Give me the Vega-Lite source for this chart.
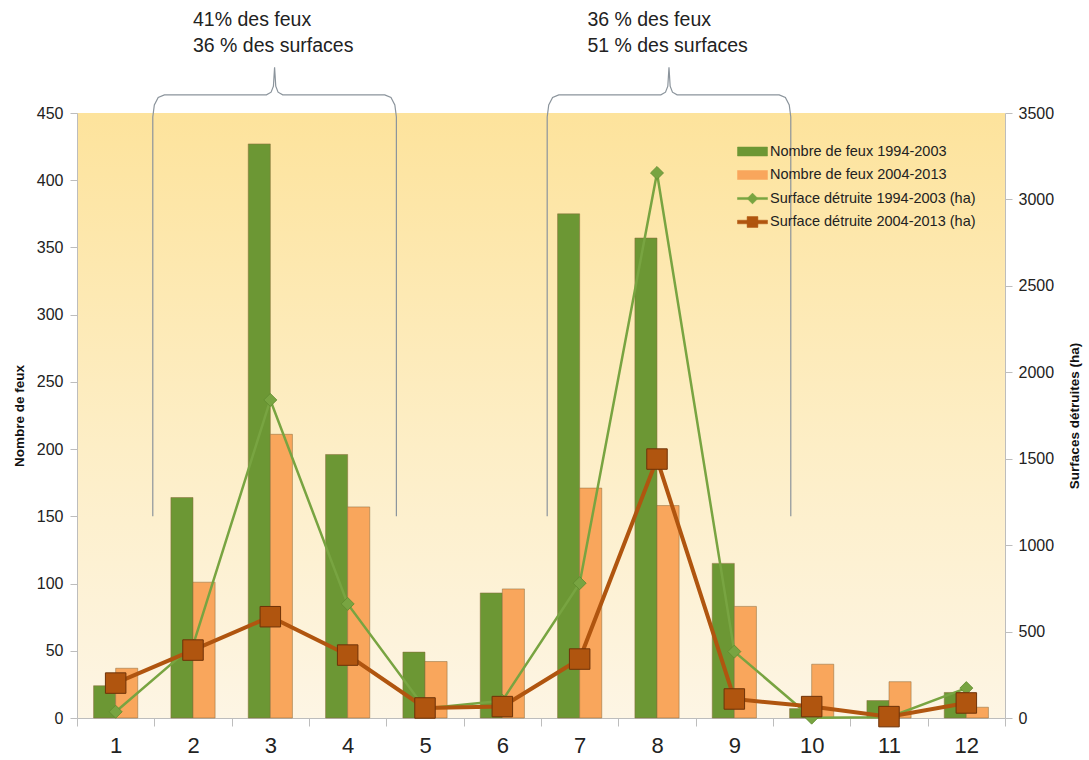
{
  "$schema": "https://vega.github.io/schema/vega-lite/v6.json",
  "width": 928,
  "height": 605,
  "autosize": {"type": "none"},
  "padding": {"left": 77, "top": 113, "right": 84, "bottom": 42},
  "background": "#ffffff",
  "config": {
    "font": "Liberation Sans",
    "view": {
      "stroke": null,
      "fill": {"gradient": "linear", "x1": 0, "y1": 0, "x2": 0, "y2": 1,
        "stops": [{"offset": 0, "color": "#fde39c"}, {"offset": 0.55, "color": "#fdeec6"}, {"offset": 1, "color": "#fdf5e4"}]}
    },
    "legend": {"labelLimit": 400}
  },
  "datasets": {
    "feux": [
      {"mois": 1, "serie": "Nombre de feux 1994-2003", "valeur": 24},
      {"mois": 2, "serie": "Nombre de feux 1994-2003", "valeur": 164},
      {"mois": 3, "serie": "Nombre de feux 1994-2003", "valeur": 427},
      {"mois": 4, "serie": "Nombre de feux 1994-2003", "valeur": 196},
      {"mois": 5, "serie": "Nombre de feux 1994-2003", "valeur": 49},
      {"mois": 6, "serie": "Nombre de feux 1994-2003", "valeur": 93},
      {"mois": 7, "serie": "Nombre de feux 1994-2003", "valeur": 375},
      {"mois": 8, "serie": "Nombre de feux 1994-2003", "valeur": 357},
      {"mois": 9, "serie": "Nombre de feux 1994-2003", "valeur": 115},
      {"mois": 10, "serie": "Nombre de feux 1994-2003", "valeur": 7},
      {"mois": 11, "serie": "Nombre de feux 1994-2003", "valeur": 13},
      {"mois": 12, "serie": "Nombre de feux 1994-2003", "valeur": 19},
      {"mois": 1, "serie": "Nombre de feux 2004-2013", "valeur": 37},
      {"mois": 2, "serie": "Nombre de feux 2004-2013", "valeur": 101},
      {"mois": 3, "serie": "Nombre de feux 2004-2013", "valeur": 211},
      {"mois": 4, "serie": "Nombre de feux 2004-2013", "valeur": 157},
      {"mois": 5, "serie": "Nombre de feux 2004-2013", "valeur": 42},
      {"mois": 6, "serie": "Nombre de feux 2004-2013", "valeur": 96},
      {"mois": 7, "serie": "Nombre de feux 2004-2013", "valeur": 171},
      {"mois": 8, "serie": "Nombre de feux 2004-2013", "valeur": 158},
      {"mois": 9, "serie": "Nombre de feux 2004-2013", "valeur": 83},
      {"mois": 10, "serie": "Nombre de feux 2004-2013", "valeur": 40},
      {"mois": 11, "serie": "Nombre de feux 2004-2013", "valeur": 27},
      {"mois": 12, "serie": "Nombre de feux 2004-2013", "valeur": 8}
    ],
    "surf9403": [
      {"mois": 1, "serie": "Surface détruite 1994-2003 (ha)", "valeur": 36},
      {"mois": 2, "serie": "Surface détruite 1994-2003 (ha)", "valeur": 420},
      {"mois": 3, "serie": "Surface détruite 1994-2003 (ha)", "valeur": 1840},
      {"mois": 4, "serie": "Surface détruite 1994-2003 (ha)", "valeur": 660},
      {"mois": 5, "serie": "Surface détruite 1994-2003 (ha)", "valeur": 55},
      {"mois": 6, "serie": "Surface détruite 1994-2003 (ha)", "valeur": 100},
      {"mois": 7, "serie": "Surface détruite 1994-2003 (ha)", "valeur": 780},
      {"mois": 8, "serie": "Surface détruite 1994-2003 (ha)", "valeur": 3153},
      {"mois": 9, "serie": "Surface détruite 1994-2003 (ha)", "valeur": 384},
      {"mois": 10, "serie": "Surface détruite 1994-2003 (ha)", "valeur": 2},
      {"mois": 11, "serie": "Surface détruite 1994-2003 (ha)", "valeur": 5},
      {"mois": 12, "serie": "Surface détruite 1994-2003 (ha)", "valeur": 173}
    ],
    "surf0413": [
      {"mois": 1, "serie": "Surface détruite 2004-2013 (ha)", "valeur": 202},
      {"mois": 2, "serie": "Surface détruite 2004-2013 (ha)", "valeur": 393},
      {"mois": 3, "serie": "Surface détruite 2004-2013 (ha)", "valeur": 586},
      {"mois": 4, "serie": "Surface détruite 2004-2013 (ha)", "valeur": 364},
      {"mois": 5, "serie": "Surface détruite 2004-2013 (ha)", "valeur": 58},
      {"mois": 6, "serie": "Surface détruite 2004-2013 (ha)", "valeur": 66},
      {"mois": 7, "serie": "Surface détruite 2004-2013 (ha)", "valeur": 341},
      {"mois": 8, "serie": "Surface détruite 2004-2013 (ha)", "valeur": 1498},
      {"mois": 9, "serie": "Surface détruite 2004-2013 (ha)", "valeur": 110},
      {"mois": 10, "serie": "Surface détruite 2004-2013 (ha)", "valeur": 66},
      {"mois": 11, "serie": "Surface détruite 2004-2013 (ha)", "valeur": 8},
      {"mois": 12, "serie": "Surface détruite 2004-2013 (ha)", "valeur": 87}
    ],
    "accolades": [
      {"g": 1, "o": 1, "x": 1.48, "y": 150}, {"g": 1, "o": 2, "x": 1.48, "y": 447}, {"g": 1, "o": 3, "x": 1.50, "y": 456},
      {"g": 1, "o": 4, "x": 1.55, "y": 461.5}, {"g": 1, "o": 5, "x": 1.63, "y": 463.5}, {"g": 1, "o": 6, "x": 2.95, "y": 463.5},
      {"g": 1, "o": 7, "x": 3.01, "y": 465.5}, {"g": 1, "o": 8, "x": 3.04, "y": 470}, {"g": 1, "o": 9, "x": 3.055, "y": 484},
      {"g": 1, "o": 10, "x": 3.07, "y": 470}, {"g": 1, "o": 11, "x": 3.10, "y": 465.5}, {"g": 1, "o": 12, "x": 3.16, "y": 463.5},
      {"g": 1, "o": 13, "x": 4.48, "y": 463.5}, {"g": 1, "o": 14, "x": 4.56, "y": 461.5}, {"g": 1, "o": 15, "x": 4.61, "y": 456},
      {"g": 1, "o": 16, "x": 4.63, "y": 447}, {"g": 1, "o": 17, "x": 4.63, "y": 150},
      {"g": 2, "o": 1, "x": 6.58, "y": 150}, {"g": 2, "o": 2, "x": 6.58, "y": 447}, {"g": 2, "o": 3, "x": 6.60, "y": 456},
      {"g": 2, "o": 4, "x": 6.65, "y": 461.5}, {"g": 2, "o": 5, "x": 6.73, "y": 463.5}, {"g": 2, "o": 6, "x": 8.05, "y": 463.5},
      {"g": 2, "o": 7, "x": 8.11, "y": 465.5}, {"g": 2, "o": 8, "x": 8.14, "y": 470}, {"g": 2, "o": 9, "x": 8.155, "y": 484},
      {"g": 2, "o": 10, "x": 8.17, "y": 470}, {"g": 2, "o": 11, "x": 8.20, "y": 465.5}, {"g": 2, "o": 12, "x": 8.26, "y": 463.5},
      {"g": 2, "o": 13, "x": 9.58, "y": 463.5}, {"g": 2, "o": 14, "x": 9.66, "y": 461.5}, {"g": 2, "o": 15, "x": 9.71, "y": 456},
      {"g": 2, "o": 16, "x": 9.73, "y": 447}, {"g": 2, "o": 17, "x": 9.73, "y": 150}
    ],
    "textes": [
      {"x": 2.0, "y": 519, "texte": "41% des feux"},
      {"x": 2.0, "y": 499.5, "texte": "36 % des surfaces"},
      {"x": 7.1, "y": 519, "texte": "36 % des feux"},
      {"x": 7.1, "y": 499.5, "texte": "51 % des surfaces"}
    ]
  },
  "layer": [
    {
      "data": {"name": "feux"},
      "mark": {"type": "bar", "strokeWidth": 1, "stroke": "#8a6a3a", "strokeOpacity": 0.5},
      "encoding": {
        "x": {"field": "mois", "type": "ordinal",
          "scale": {"type": "band", "paddingInner": 0, "paddingOuter": 0},
          "axis": {"title": null, "labelAngle": 0, "labelFontSize": 22, "labelColor": "#222", "labelPadding": 9,
            "tickBand": "extent", "domainColor": "#bdbdbd", "tickColor": "#bdbdbd", "tickSize": 8}},
        "xOffset": {"field": "serie", "type": "nominal",
          "scale": {"paddingInner": 0, "paddingOuter": 0.75}},
        "y": {"field": "valeur", "type": "quantitative",
          "scale": {"domain": [0, 450], "nice": false},
          "axis": {"orient": "left", "title": "Nombre de feux", "titleFontSize": 13.5, "titleFontWeight": "bold", "titleColor": "#111",
            "titlePadding": 10, "values": [0, 50, 100, 150, 200, 250, 300, 350, 400, 450], "labelFontSize": 16, "labelColor": "#222",
            "labelPadding": 7, "grid": false, "domainColor": "#bdbdbd", "tickColor": "#bdbdbd", "tickSize": 7}},
        "color": {"field": "serie", "type": "nominal",
          "scale": {"domain": ["Nombre de feux 1994-2003", "Nombre de feux 2004-2013", "Surface détruite 1994-2003 (ha)", "Surface détruite 2004-2013 (ha)"],
            "range": ["#6c9734", "#f9a65c", "#78a441", "#b0550f"]},
          "legend": {"title": null, "orient": "none", "legendX": 660, "legendY": 23, "labelFontSize": 14.5, "labelColor": "#222",
            "symbolSize": 900, "rowPadding": 1.5, "labelOffset": 2, "labelLimit": 400,
            "encode": {"symbols": {"update": {
              "shape": {"signal": "indexof(datum.value, 'Nombre') == 0 ? 'M-1,-0.3L1,-0.3L1,0.3L-1,0.3Z' : (indexof(datum.value, '1994') >= 0 ? 'M-1,-0.07L1,-0.07L1,0.07L-1,0.07Z M-0.36,0L0,-0.36L0.36,0L0,0.36Z' : 'M-1,-0.12L1,-0.12L1,0.12L-1,0.12Z M-0.36,-0.36L0.36,-0.36L0.36,0.36L-0.36,0.36Z')"},
              "fill": {"signal": "scale('color', datum.value)"},
              "stroke": {"signal": "scale('color', datum.value)"},
              "strokeWidth": {"value": 0.5},
              "opacity": {"value": 1}
            }}}}
        }
      }
    },
    {
      "data": {"name": "surf9403"},
      "mark": {"type": "line", "strokeWidth": 2.5},
      "encoding": {
        "x": {"field": "mois", "type": "ordinal", "scale": {"type": "band", "paddingInner": 0, "paddingOuter": 0}, "axis": null},
        "y": {"field": "valeur", "type": "quantitative", "scale": {"domain": [0, 3500], "nice": false},
          "axis": {"orient": "right", "title": "Surfaces détruites (ha)", "titleFontSize": 13.5, "titleFontWeight": "bold", "titleColor": "#111",
            "titleAngle": 270, "titlePadding": 28, "format": "d", "values": [0, 500, 1000, 1500, 2000, 2500, 3000, 3500], "labelFontSize": 16, "labelColor": "#222",
            "labelPadding": 6, "grid": false, "domainColor": "#bdbdbd", "tickColor": "#bdbdbd", "tickSize": 7}},
        "color": {"field": "serie", "type": "nominal",
          "legend": {"title": null, "orient": "none", "legendX": 660, "legendY": 23, "labelFontSize": 14.5, "labelColor": "#222",
            "symbolSize": 900, "rowPadding": 1.5, "labelOffset": 2, "labelLimit": 400,
            "encode": {"symbols": {"update": {
              "shape": {"signal": "indexof(datum.value, 'Nombre') == 0 ? 'M-1,-0.3L1,-0.3L1,0.3L-1,0.3Z' : (indexof(datum.value, '1994') >= 0 ? 'M-1,-0.07L1,-0.07L1,0.07L-1,0.07Z M-0.36,0L0,-0.36L0.36,0L0,0.36Z' : 'M-1,-0.12L1,-0.12L1,0.12L-1,0.12Z M-0.36,-0.36L0.36,-0.36L0.36,0.36L-0.36,0.36Z')"},
              "fill": {"signal": "scale('color', datum.value)"},
              "stroke": {"signal": "scale('color', datum.value)"},
              "strokeWidth": {"value": 0.5},
              "opacity": {"value": 1}
            }}}}}
      }
    },
    {
      "data": {"name": "surf9403"},
      "mark": {"type": "point", "shape": "diamond", "filled": true, "size": 170, "opacity": 1, "stroke": "#5f8a2e", "strokeWidth": 0.8},
      "encoding": {
        "x": {"field": "mois", "type": "ordinal", "scale": {"type": "band", "paddingInner": 0, "paddingOuter": 0}, "axis": null},
        "y": {"field": "valeur", "type": "quantitative", "scale": {"domain": [0, 3500], "nice": false}, "axis": null},
        "color": {"field": "serie", "type": "nominal",
          "legend": {"title": null, "orient": "none", "legendX": 660, "legendY": 23, "labelFontSize": 14.5, "labelColor": "#222",
            "symbolSize": 900, "rowPadding": 1.5, "labelOffset": 2, "labelLimit": 400,
            "encode": {"symbols": {"update": {
              "shape": {"signal": "indexof(datum.value, 'Nombre') == 0 ? 'M-1,-0.3L1,-0.3L1,0.3L-1,0.3Z' : (indexof(datum.value, '1994') >= 0 ? 'M-1,-0.07L1,-0.07L1,0.07L-1,0.07Z M-0.36,0L0,-0.36L0.36,0L0,0.36Z' : 'M-1,-0.12L1,-0.12L1,0.12L-1,0.12Z M-0.36,-0.36L0.36,-0.36L0.36,0.36L-0.36,0.36Z')"},
              "fill": {"signal": "scale('color', datum.value)"},
              "stroke": {"signal": "scale('color', datum.value)"},
              "strokeWidth": {"value": 0.5},
              "opacity": {"value": 1}
            }}}}}
      }
    },
    {
      "data": {"name": "surf0413"},
      "mark": {"type": "line", "strokeWidth": 4},
      "encoding": {
        "x": {"field": "mois", "type": "ordinal", "scale": {"type": "band", "paddingInner": 0, "paddingOuter": 0}, "axis": null},
        "y": {"field": "valeur", "type": "quantitative", "scale": {"domain": [0, 3500], "nice": false}, "axis": null},
        "color": {"field": "serie", "type": "nominal",
          "legend": {"title": null, "orient": "none", "legendX": 660, "legendY": 23, "labelFontSize": 14.5, "labelColor": "#222",
            "symbolSize": 900, "rowPadding": 1.5, "labelOffset": 2, "labelLimit": 400,
            "encode": {"symbols": {"update": {
              "shape": {"signal": "indexof(datum.value, 'Nombre') == 0 ? 'M-1,-0.3L1,-0.3L1,0.3L-1,0.3Z' : (indexof(datum.value, '1994') >= 0 ? 'M-1,-0.07L1,-0.07L1,0.07L-1,0.07Z M-0.36,0L0,-0.36L0.36,0L0,0.36Z' : 'M-1,-0.12L1,-0.12L1,0.12L-1,0.12Z M-0.36,-0.36L0.36,-0.36L0.36,0.36L-0.36,0.36Z')"},
              "fill": {"signal": "scale('color', datum.value)"},
              "stroke": {"signal": "scale('color', datum.value)"},
              "strokeWidth": {"value": 0.5},
              "opacity": {"value": 1}
            }}}}}
      }
    },
    {
      "data": {"name": "surf0413"},
      "mark": {"type": "point", "shape": "square", "filled": true, "size": 420, "opacity": 1, "stroke": "#6e3208", "strokeWidth": 1},
      "encoding": {
        "x": {"field": "mois", "type": "ordinal", "scale": {"type": "band", "paddingInner": 0, "paddingOuter": 0}, "axis": null},
        "y": {"field": "valeur", "type": "quantitative", "scale": {"domain": [0, 3500], "nice": false}, "axis": null},
        "color": {"field": "serie", "type": "nominal",
          "legend": {"title": null, "orient": "none", "legendX": 660, "legendY": 23, "labelFontSize": 14.5, "labelColor": "#222",
            "symbolSize": 900, "rowPadding": 1.5, "labelOffset": 2, "labelLimit": 400,
            "encode": {"symbols": {"update": {
              "shape": {"signal": "indexof(datum.value, 'Nombre') == 0 ? 'M-1,-0.3L1,-0.3L1,0.3L-1,0.3Z' : (indexof(datum.value, '1994') >= 0 ? 'M-1,-0.07L1,-0.07L1,0.07L-1,0.07Z M-0.36,0L0,-0.36L0.36,0L0,0.36Z' : 'M-1,-0.12L1,-0.12L1,0.12L-1,0.12Z M-0.36,-0.36L0.36,-0.36L0.36,0.36L-0.36,0.36Z')"},
              "fill": {"signal": "scale('color', datum.value)"},
              "stroke": {"signal": "scale('color', datum.value)"},
              "strokeWidth": {"value": 0.5},
              "opacity": {"value": 1}
            }}}}}
      }
    },
    {
      "data": {"name": "accolades"},
      "mark": {"type": "line", "stroke": "#8b949c", "strokeWidth": 1.2, "clip": false},
      "encoding": {
        "x": {"field": "x", "type": "quantitative", "scale": {"domain": [0.5, 12.5], "nice": false, "zero": false}, "axis": null},
        "y": {"field": "y", "type": "quantitative", "scale": {"domain": [0, 450], "nice": false}, "axis": null},
        "detail": {"field": "g", "type": "nominal"},
        "order": {"field": "o", "type": "quantitative"}
      }
    },
    {
      "data": {"name": "textes"},
      "mark": {"type": "text", "align": "left", "baseline": "middle", "fontSize": 19.5, "color": "#222", "clip": false},
      "encoding": {
        "x": {"field": "x", "type": "quantitative", "scale": {"domain": [0.5, 12.5], "nice": false, "zero": false}, "axis": null},
        "y": {"field": "y", "type": "quantitative", "scale": {"domain": [0, 450], "nice": false}, "axis": null},
        "text": {"field": "texte", "type": "nominal"}
      }
    }
  ],
  "resolve": {"scale": {"x": "independent", "y": "independent", "color": "shared"}}
}
